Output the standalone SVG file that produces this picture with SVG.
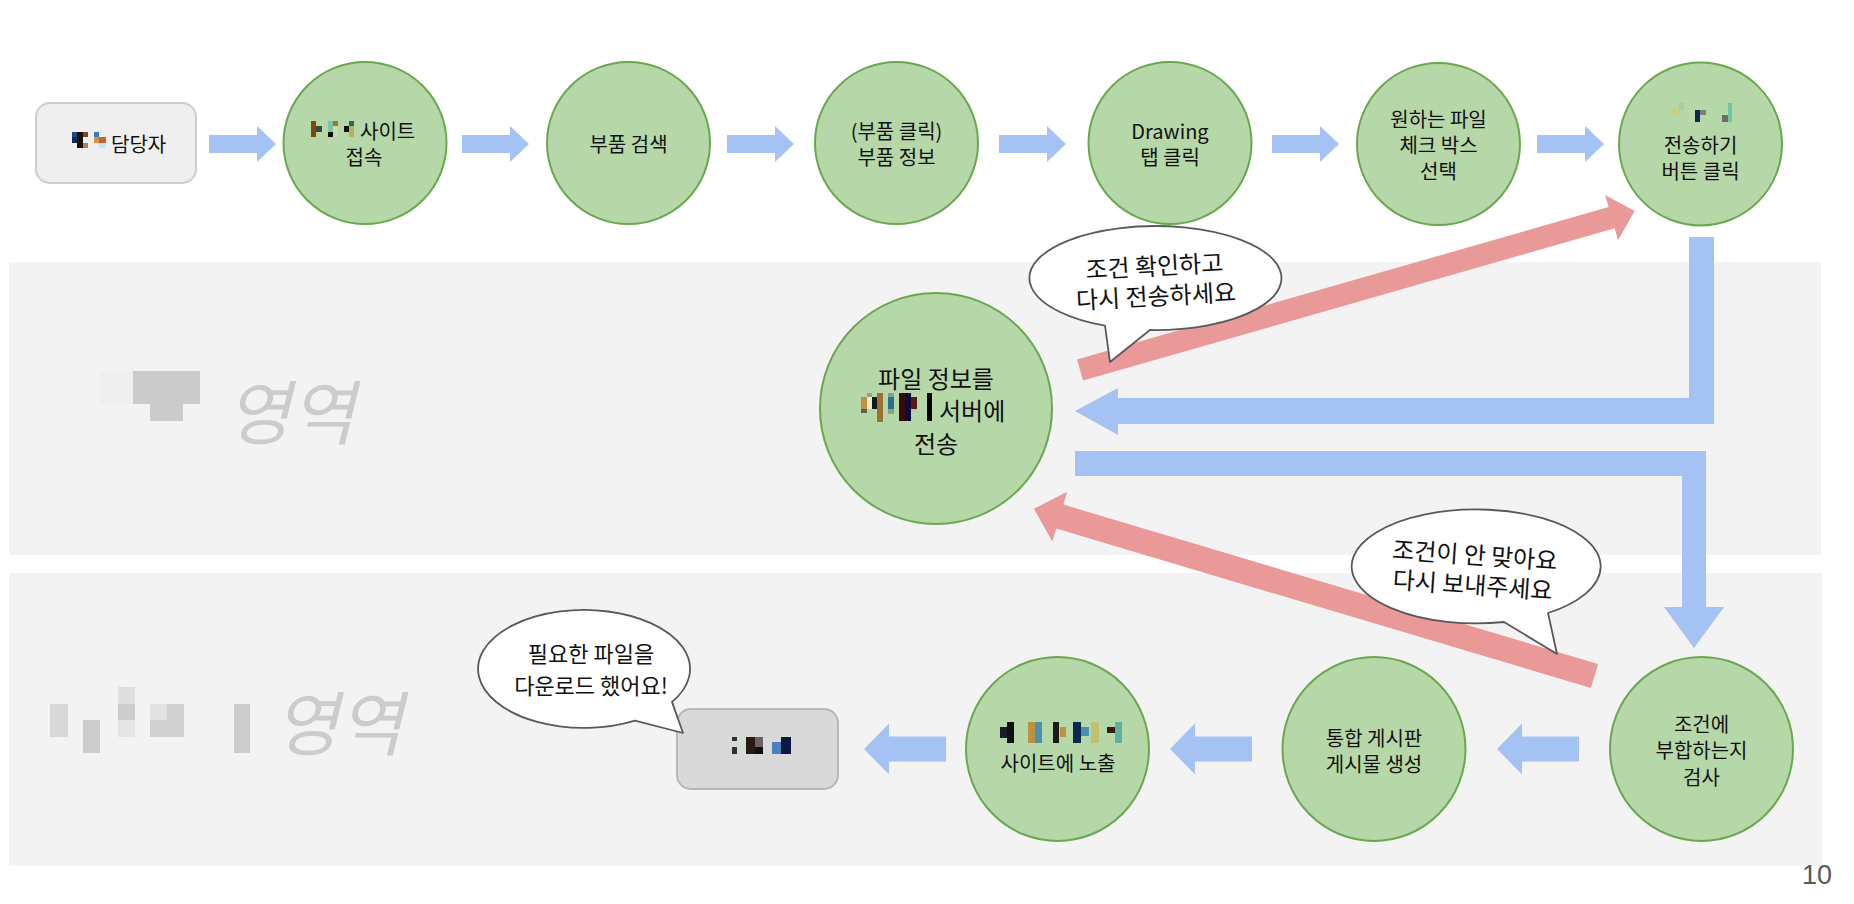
<svg xmlns="http://www.w3.org/2000/svg" width="1854" height="904" viewBox="0 0 1854 904">
<defs>
<style>
.band{fill:#f3f3f3}
.area{font-family:"Noto Sans CJK KR","Noto Sans",sans-serif;font-size:70px;font-style:italic;fill:#cccccc;dominant-baseline:central}
.node{fill:#b6d7a8;stroke:#6aa84f;stroke-width:2}
.t{font-family:"Noto Sans CJK KR","Noto Sans",sans-serif;font-size:20px;fill:#111;text-anchor:middle;dominant-baseline:central}
.ts{text-anchor:start}
.t24{font-size:24px}
.blue{fill:#a4c2f4}
.red{fill:#ea9999}
.call{fill:#ffffff;stroke:#595959;stroke-width:1.8;stroke-linejoin:round}
.pg{font-family:"Liberation Sans",Arial,sans-serif;font-size:27px;fill:#595959;text-anchor:end}
</style>
<path id="ar" d="M0,-9 H48 V-18 L67,0 L48,18 V9 H0 Z"/>
<path id="al" d="M0,0 L25,-25.5 V-12.5 H82 V12.5 H25 V25.5 Z"/>
</defs>
<rect width="1854" height="904" fill="#ffffff"/>

<g id="bands">
<rect class="band" x="9" y="262" width="1812" height="293"/>
<rect class="band" x="9" y="573" width="1813" height="293"/>
</g>

<g id="area-labels">
<rect x="100" y="371" width="33" height="33" fill="#efefef"/>
<rect x="133" y="371" width="67" height="33" fill="#cbcbcb"/>
<rect x="150" y="404" width="33" height="17" fill="#cbcbcb"/>
<text class="area" x="226" y="408">영역</text>
<rect x="50" y="704" width="18" height="33" fill="#d8d8d8"/>
<rect x="83" y="720" width="17" height="33" fill="#cccccc"/>
<rect x="118" y="687" width="17" height="17" fill="#dedede"/>
<rect x="118" y="704" width="17" height="16" fill="#cccccc"/>
<rect x="118" y="720" width="17" height="17" fill="#e5e5e5"/>
<rect x="150" y="704" width="34" height="33" fill="#d0d0d0"/>
<rect x="150" y="704" width="17" height="16" fill="#e2e2e2"/>
<rect x="234" y="704" width="16" height="49" fill="#cccccc"/>
<text class="area" x="274" y="719">영역</text>
</g>

<g id="connectors">
<use href="#ar" class="blue" x="209" y="144"/>
<use href="#ar" class="blue" x="462" y="144"/>
<use href="#ar" class="blue" x="727" y="144"/>
<use href="#ar" class="blue" x="999" y="144"/>
<use href="#ar" class="blue" x="1272" y="144"/>
<use href="#ar" class="blue" x="1537" y="144"/>
<path class="blue" d="M1689,237 H1714 V424 H1118 V435 L1075,411 L1118,388 V398 H1689 Z"/>
<path class="blue" d="M1075,451 H1706 V607 H1724 L1694,648 L1664,607 H1682 V476 H1075 Z"/>
<path class="red" transform="translate(1080,370) rotate(-15.99)" d="M0,-11 H553 V-23.5 L577,0 L553,23.5 V11 H0 Z"/>
<path class="red" transform="translate(1594.5,676) rotate(196.6)" d="M0,-12.5 H558 V-26 L585,0 L558,26 V12.5 H0 Z"/>
<use href="#al" class="blue" x="1497" y="749"/>
<use href="#al" class="blue" x="1170" y="749"/>
<use href="#al" class="blue" x="864" y="749"/>
</g>

<g id="node-manager">
<rect x="36" y="103" width="160" height="80" rx="14" fill="#efefef" stroke="#cccccc" stroke-width="2"/>
<rect x="72" y="132" width="5" height="5" fill="#1b4a8c"/>
<rect x="72" y="137" width="5" height="6" fill="#0d2d5c"/>
<rect x="77" y="132" width="6" height="16" fill="#1a1008"/>
<rect x="83" y="132" width="5" height="5" fill="#6b4a2a"/>
<rect x="83" y="143" width="5" height="5" fill="#b08050"/>
<rect x="94" y="132" width="5" height="5" fill="#3a7ac0"/>
<rect x="94" y="137" width="5" height="6" fill="#e09040"/>
<rect x="99" y="137" width="7" height="6" fill="#b86a2a"/>
<rect x="99" y="143" width="7" height="5" fill="#c0e8f0"/>
<text class="t ts" x="111" y="143">담당자</text>
</g>

<g id="node-site">
<ellipse class="node" cx="365" cy="143" rx="81.5" ry="81"/>
<rect x="311" y="121" width="5" height="16" fill="#7a4a10"/>
<rect x="316" y="126" width="6" height="6" fill="#3a4a40"/>
<rect x="328" y="121" width="5" height="11" fill="#7ac8a8"/>
<rect x="328" y="132" width="5" height="5" fill="#0a0a0a"/>
<rect x="333" y="121" width="5" height="5" fill="#a07830"/>
<rect x="333" y="126" width="5" height="11" fill="#c8dcb0"/>
<rect x="344" y="126" width="5" height="6" fill="#101010"/>
<rect x="349" y="121" width="5" height="5" fill="#2a6a50"/>
<rect x="349" y="126" width="5" height="11" fill="#b8b060"/>
<text class="t"><tspan x="360" y="130" text-anchor="start">사이트</tspan><tspan x="364" y="156">접속</tspan></text>
</g>

<g id="node-search">
<ellipse class="node" cx="628.5" cy="143" rx="81.5" ry="81"/>
<text class="t" x="628.5" y="143">부품 검색</text>
</g>

<g id="node-info">
<ellipse class="node" cx="896.5" cy="143" rx="81.5" ry="81"/>
<text class="t"><tspan x="896.5" y="130">(부품 클릭)</tspan><tspan x="896.5" y="156">부품 정보</tspan></text>
</g>

<g id="node-drawing">
<ellipse class="node" cx="1170" cy="143" rx="81.5" ry="81"/>
<text class="t"><tspan x="1170" y="130">Drawing</tspan><tspan x="1170" y="156">탭 클릭</tspan></text>
</g>

<g id="node-check">
<ellipse class="node" cx="1438.5" cy="144" rx="81.5" ry="81"/>
<text class="t"><tspan x="1438.5" y="118">원하는 파일</tspan><tspan x="1438.5" y="144">체크 박스</tspan><tspan x="1438.5" y="170">선택</tspan></text>
</g>

<g id="node-send">
<ellipse class="node" cx="1700.5" cy="144" rx="81.5" ry="81.5"/>
<rect x="1672" y="110" width="7" height="5" fill="#c8d080"/>
<rect x="1679" y="103" width="5" height="7" fill="#b8c890"/>
<rect x="1689" y="110" width="6" height="12" fill="#c0d8b0"/>
<rect x="1695" y="110" width="5" height="12" fill="#0a2a50"/>
<rect x="1700" y="110" width="6" height="5" fill="#808070"/>
<rect x="1722" y="115" width="6" height="7" fill="#707060"/>
<rect x="1728" y="103" width="4" height="19" fill="#70c8a0"/>
<text class="t"><tspan x="1700.5" y="144">전송하기</tspan><tspan x="1700.5" y="170">버튼 클릭</tspan></text>
</g>

<g id="node-server">
<ellipse class="node" cx="936" cy="408.5" rx="116" ry="115.5"/>
<rect x="861" y="397" width="6" height="12" fill="#c09040"/>
<rect x="861" y="409" width="6" height="4" fill="#606048"/>
<rect x="867" y="393" width="5" height="4" fill="#a0a080"/>
<rect x="867" y="397" width="5" height="12" fill="#e8ecc8"/>
<rect x="872" y="397" width="5" height="12" fill="#101820"/>
<rect x="877" y="393" width="6" height="29" fill="#a07030"/>
<rect x="888" y="393" width="6" height="4" fill="#80a0a0"/>
<rect x="888" y="397" width="6" height="12" fill="#2a7090"/>
<rect x="888" y="409" width="6" height="5" fill="#90a080"/>
<rect x="899" y="393" width="6" height="28" fill="#3a0a08"/>
<rect x="905" y="393" width="6" height="28" fill="#0a0a40"/>
<rect x="911" y="397" width="6" height="12" fill="#5a1a10"/>
<rect x="911" y="409" width="6" height="4" fill="#c0c8b0"/>
<rect x="927" y="393" width="5" height="28" fill="#000000"/>
<text class="t t24"><tspan x="936" y="377">파일 정보를</tspan><tspan x="939" y="409" text-anchor="start">서버에</tspan><tspan x="936" y="442">전송</tspan></text>
</g>

<g id="node-verify">
<ellipse class="node" cx="1701.5" cy="749" rx="91.5" ry="92"/>
<text class="t"><tspan x="1701.5" y="723">조건에</tspan><tspan x="1701.5" y="749">부합하는지</tspan><tspan x="1701.5" y="776">검사</tspan></text>
</g>

<g id="node-board">
<ellipse class="node" cx="1374" cy="749" rx="91.5" ry="92"/>
<text class="t"><tspan x="1374" y="737">통합 게시판</tspan><tspan x="1374" y="763">게시물 생성</tspan></text>
</g>

<g id="node-expose">
<ellipse class="node" cx="1057.5" cy="749" rx="91.5" ry="92"/>
<rect x="1000" y="727" width="7" height="11" fill="#1a1a2a"/>
<rect x="1007" y="722" width="7" height="21" fill="#101010"/>
<rect x="1028" y="722" width="7" height="21" fill="#c09040"/>
<rect x="1035" y="722" width="7" height="21" fill="#4a90b0"/>
<rect x="1053" y="722" width="6" height="21" fill="#1a1a1a"/>
<rect x="1060" y="727" width="6" height="10" fill="#c09040"/>
<rect x="1073" y="722" width="8" height="21" fill="#0a2a50"/>
<rect x="1081" y="727" width="8" height="9" fill="#4a90b0"/>
<rect x="1091" y="722" width="8" height="21" fill="#c0c070"/>
<rect x="1107" y="727" width="8" height="6" fill="#3a1a10"/>
<rect x="1115" y="722" width="7" height="21" fill="#60b0a0"/>
<text class="t" x="1058" y="762">사이트에 노출</text>
</g>

<g id="node-user">
<rect x="677" y="709" width="161" height="80" rx="14" fill="#d9d9d9" stroke="#b7b7b7" stroke-width="2"/>
<rect x="732" y="737" width="5" height="4" fill="#303030"/>
<rect x="732" y="747" width="5" height="7" fill="#303030"/>
<rect x="738" y="737" width="8" height="17" fill="#d0e0d0"/>
<rect x="746" y="737" width="9" height="17" fill="#2a1a10"/>
<rect x="755" y="737" width="8" height="10" fill="#706060"/>
<rect x="755" y="747" width="8" height="7" fill="#101010"/>
<rect x="772" y="742" width="9" height="12" fill="#4a80c0"/>
<rect x="781" y="737" width="10" height="17" fill="#0a1a40"/>
</g>

<g id="callout-retry">
<path class="call" d="M1105,325.7 A126,52 0 1 1 1150,330 L1110,362 Z"/>
<text class="t t24" transform="rotate(-3 1155 278)"><tspan x="1155" y="264">조건 확인하고</tspan><tspan x="1155" y="294">다시 전송하세요</tspan></text>
</g>

<g id="callout-resend">
<path class="call" d="M1504,622 A124.5,57 0 1 1 1548,613 L1557,654 Z"/>
<text class="t t24" transform="rotate(4 1474 567)"><tspan x="1474" y="553">조건이 안 맞아요</tspan><tspan x="1474" y="583">다시 보내주세요</tspan></text>
</g>

<g id="callout-done">
<path class="call" d="M635,720.7 A106,59 0 1 1 672,701.9 L683,733 Z"/>
<text class="t" style="font-size:22px"><tspan x="591" y="652">필요한 파일을</tspan><tspan x="591" y="684">다운로드 했어요!</tspan></text>
</g>

<text class="pg" x="1832" y="884">10</text>
</svg>
